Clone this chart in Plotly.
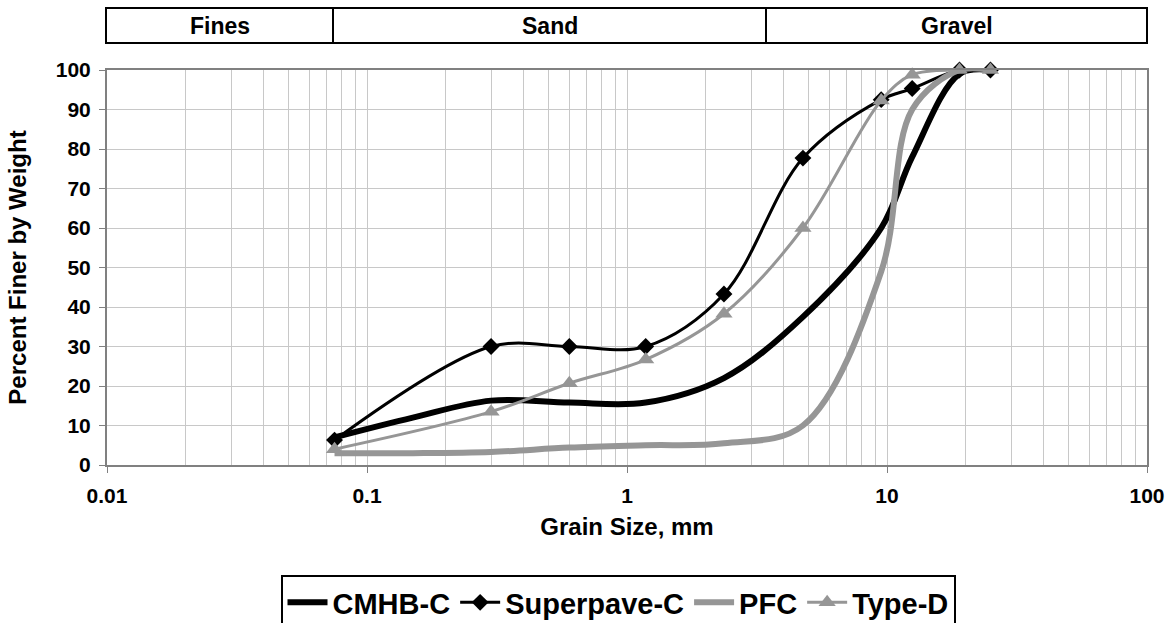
import plotly.graph_objects as go

# ---------------- data ----------------
sieves_full = [0.075, 0.15, 0.3, 0.6, 1.18, 2.36, 4.75, 9.5, 12.5, 19, 25]
sieves_mark = [0.075, 0.3, 0.6, 1.18, 2.36, 4.75, 9.5, 12.5, 19, 25]

cmhb_c = [7.0, 12.0, 16.3, 15.8, 15.8, 22.0, 37.5, 60.0, 78.0, 99.0, 100.0]
pfc = [3.0, 3.0, 3.3, 4.4, 5.0, 5.5, 10.0, 49.0, 90.0, 100.0, 100.0]
superpave_c = [6.3, 30.0, 30.0, 30.0, 43.3, 77.7, 92.5, 95.3, 100.0, 100.0]
type_d = [4.0, 13.5, 20.7, 26.7, 38.3, 60.0, 92.3, 98.8, 100.0, 100.0]

x_tickvals = [0.01, 0.1, 1, 10, 100]
x_ticktext = ["0.01", "0.1", "1", "10", "100"]
y_tickvals = list(range(0, 101, 10))
minor_vals = [m * 10.0 ** e for e in range(-2, 2) for m in range(2, 10)]

zones = ["Fines", "Sand", "Gravel"]

# ---------------- figure ----------------
FONT = "Liberation Sans, Arial, sans-serif"
BLACK = "#000000"
GRAY = "#969696"

W, H = 1172, 623
L, R, T, B = 107, 25, 70, 158
pw, ph = W - L - R, H - T - B

def px_x(p):
    return (p - L) / pw

def px_y(p):
    return (H - B - p) / ph

fig = go.Figure()
fig.add_trace(go.Scatter(x=sieves_full, y=cmhb_c, name="CMHB-C", mode="lines",
                         line=dict(color=BLACK, width=6, shape="spline", smoothing=1.0)))
fig.add_trace(go.Scatter(x=sieves_mark, y=superpave_c, name="Superpave-C", mode="lines+markers",
                         line=dict(color=BLACK, width=3, shape="spline", smoothing=1.0),
                         marker=dict(symbol="diamond", size=13, color=BLACK), cliponaxis=False))
fig.add_trace(go.Scatter(x=sieves_full, y=pfc, name="PFC", mode="lines",
                         line=dict(color=GRAY, width=6, shape="spline", smoothing=1.0)))
fig.add_trace(go.Scatter(x=sieves_mark, y=type_d, name="Type-D", mode="lines+markers",
                         line=dict(color=GRAY, width=3, shape="spline", smoothing=1.0),
                         marker=dict(symbol="triangle-up", size=15, color=GRAY), cliponaxis=False))

# header boxes
edges_px = [106, 333, 766, 1147]
top_px, bot_px = 8, 43
shapes = []
annotations = []
for i, z in enumerate(zones):
    x0, x1 = px_x(edges_px[i]), px_x(edges_px[i + 1])
    shapes.append(dict(type="rect", xref="paper", yref="paper",
                       x0=x0, x1=x1, y0=px_y(bot_px), y1=px_y(top_px),
                       line=dict(color=BLACK, width=2), fillcolor="rgba(0,0,0,0)"))
    annotations.append(dict(xref="paper", yref="paper", x=(x0 + x1) / 2,
                            y=px_y((top_px + bot_px) / 2), text=z, showarrow=False,
                            xanchor="center", yanchor="middle",
                            font=dict(family=FONT, size=23, color=BLACK, weight="bold")))

fig.update_layout(
    width=W, height=H, autosize=False,
    margin=dict(l=L, r=R, t=T, b=B, pad=0, autoexpand=False),
    paper_bgcolor="white", plot_bgcolor="white",
    font=dict(family=FONT, color=BLACK),
    shapes=shapes, annotations=annotations,
    showlegend=True,
    legend=dict(orientation="h", xref="container", yref="container",
                x=618 / W, xanchor="center",
                y=1 - 575 / H, yanchor="top",
                bordercolor=BLACK, borderwidth=2, bgcolor="white",
                font=dict(family=FONT, size=29, color=BLACK, weight="bold"),
                itemwidth=40, tracegroupgap=0),
)

fig.update_xaxes(
    type="log", range=[-2, 2],
    tickmode="array", tickvals=x_tickvals, ticktext=x_ticktext,
    tickfont=dict(family=FONT, size=21, color=BLACK, weight="bold"),
    ticks="outside", ticklen=6, tickcolor="#808080", tickwidth=1,
    ticklabelstandoff=5,
    showgrid=True, gridcolor="#c8c8c8", gridwidth=1,
    minor=dict(tickvals=minor_vals, showgrid=True, gridcolor="#c8c8c8", gridwidth=1, ticks=""),
    showline=True, linecolor="#808080", linewidth=2, mirror=True,
    zeroline=False, automargin=False,
    title=dict(text="Grain Size, mm", standoff=12,
               font=dict(family=FONT, size=24, color=BLACK, weight="bold")),
)
fig.update_yaxes(
    range=[0, 100], tickmode="array", tickvals=y_tickvals,
    tickfont=dict(family=FONT, size=21, color=BLACK, weight="bold"),
    ticks="outside", ticklen=6, tickcolor="#808080", tickwidth=1,
    ticklabelstandoff=4,
    showgrid=True, gridcolor="#c8c8c8", gridwidth=1,
    showline=True, linecolor="#808080", linewidth=2, mirror=True,
    zeroline=False, automargin=False,
    title=dict(text="Percent Finer by Weight", standoff=22,
               font=dict(family=FONT, size=24, color=BLACK, weight="bold")),
)

fig.write_html("out.html")
